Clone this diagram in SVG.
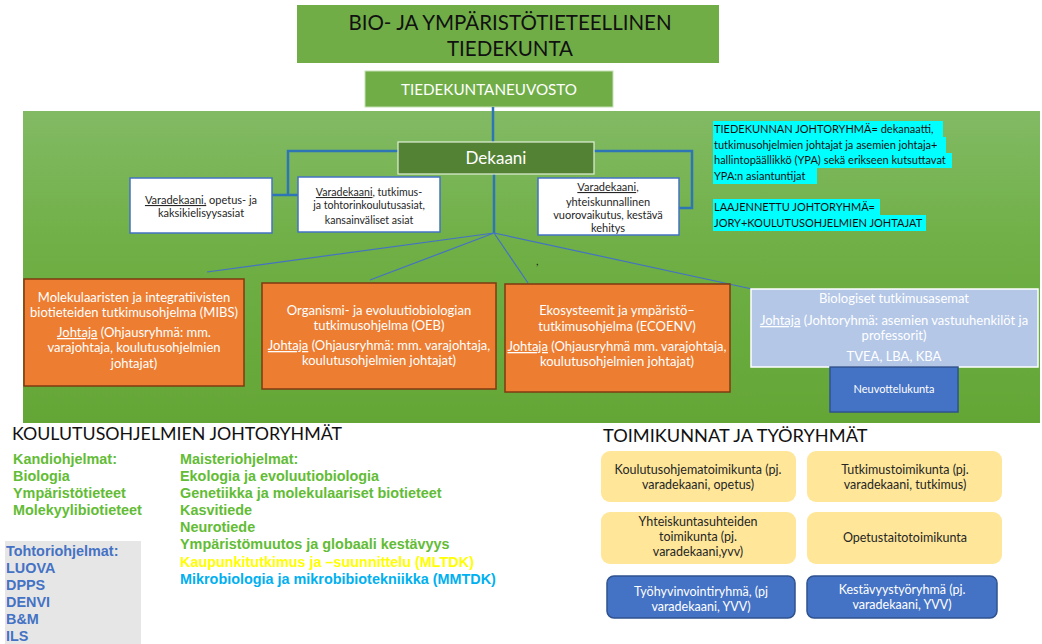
<svg xmlns="http://www.w3.org/2000/svg" width="1042" height="644" viewBox="0 0 1042 644">
  <style>
    .f { font-family: Lato, Carlito, "Liberation Sans", sans-serif; }
    .a { font-family: "Liberation Sans", Arial, sans-serif; font-weight: bold; font-size: 14.4px; }
    .hdr { fill: #111; font-size: 20.5px; text-anchor: middle; }
    .wt { fill: #ffffff; text-anchor: middle; }
    .dk { fill: #262626; text-anchor: middle; }
    .prog { fill: #ED7D31; stroke: #7F3A10; stroke-width: 1.5; }
    .vara { fill: #ffffff; stroke: #4472C4; stroke-width: 1.5; }
    .thick { fill: none; stroke: #2E75B6; stroke-width: 2.5; }
    .thin { fill: none; stroke: #4472C4; stroke-width: 1.2; }
    .ykk { fill: #FFE699; }
    .tr { fill: #4472C4; stroke: #2F528F; stroke-width: 1.5; }
    .u { text-decoration: underline; }
    .green { fill: #62BC35; }
    .cy { fill: #00FFFF; }
  </style>
  <defs>
    <linearGradient id="bg" x1="0" y1="0" x2="0" y2="1">
      <stop offset="0" stop-color="#82BA64"/>
      <stop offset="0.45" stop-color="#6FAF45"/>
      <stop offset="1" stop-color="#64A636"/>
    </linearGradient>
  </defs>

  <rect width="1042" height="644" fill="#ffffff"/>

  <!-- faculty title -->
  <g id="tiedekunta">
    <rect x="297" y="5" width="422" height="58" fill="#70AD47"/>
    <text class="f hdr" x="510" y="30">BIO- JA YMPÄRISTÖTIETEELLINEN</text>
    <text class="f hdr" x="510" y="56">TIEDEKUNTA</text>
  </g>

  <g id="tiedekuntaneuvosto">
    <rect x="365" y="71" width="248" height="36" fill="#70AD47" stroke="#C5E0B4" stroke-width="1"/>
    <text class="f wt" x="489" y="94.5" font-size="15.2">TIEDEKUNTANEUVOSTO</text>
  </g>

  <!-- green organisation panel -->
  <rect id="panel" x="23" y="111" width="1017" height="312" fill="url(#bg)"/>

  <g id="connectors">
    <path class="thick" d="M493 107 V142"/>
    <path class="thick" d="M398 151 H288 V195 M272 195 H298"/>
    <path class="thick" d="M594 151 H692 V208 H679"/>
    <path class="thick" d="M494 174 V233"/>
    <path class="thin" d="M494 233 L207 272 M494 233 L370 280 M494 233 L528 283 M494 233 L752 289"/>
  </g>

  <g id="dekaani">
    <rect x="398" y="142" width="196" height="32" fill="#548235" stroke="#E2F0D9" stroke-width="1.2"/>
    <text class="f wt" x="496" y="164" font-size="17">Dekaani</text>
  </g>

  <g id="varadekaani-opetus">
    <rect class="vara" x="130" y="178" width="142" height="55"/>
    <text class="f dk" font-size="11" x="201" y="204"><tspan class="u">Varadekaani,</tspan> opetus- ja</text>
    <text class="f dk" font-size="11" x="201" y="217">kaksikielisyysasiat</text>
  </g>

  <g id="varadekaani-tutkimus">
    <rect class="vara" x="298" y="177" width="142" height="55"/>
    <text class="f dk" font-size="10.6" x="369" y="196"><tspan class="u">Varadekaani</tspan>, tutkimus-</text>
    <text class="f dk" font-size="10.6" x="369" y="209">ja tohtorinkoulutusasiat,</text>
    <text class="f dk" font-size="10.6" x="369" y="224">kansainväliset asiat</text>
  </g>

  <g id="varadekaani-yvv">
    <rect class="vara" x="538" y="178" width="141" height="57"/>
    <text class="f dk" font-size="11" x="608" y="191"><tspan class="u">Varadekaani</tspan>,</text>
    <text class="f dk" font-size="11" x="608" y="206">yhteiskunnallinen</text>
    <text class="f dk" font-size="11" x="608" y="219">vuorovaikutus, kestävä</text>
    <text class="f dk" font-size="11" x="608" y="232">kehitys</text>
  </g>

  <text class="f" x="536" y="265" font-size="11" fill="#222">,</text>

  <!-- management group note -->
  <g id="johtoryhma">
    <rect class="cy" x="713" y="121" width="230" height="16"/>
    <rect class="cy" x="713" y="137" width="233" height="16"/>
    <rect class="cy" x="713" y="153" width="239" height="15"/>
    <rect class="cy" x="713" y="168" width="104" height="16"/>
    <rect class="cy" x="713" y="199" width="167" height="16"/>
    <rect class="cy" x="713" y="215" width="213" height="16"/>
    <g class="f" font-size="11" fill="#111">
      <text x="714" y="133">TIEDEKUNNAN JOHTORYHMÄ= dekanaatti,</text>
      <text x="714" y="149">tutkimusohjelmien johtajat ja asemien johtaja+</text>
      <text x="714" y="164">hallintopäällikkö (YPA) sekä erikseen kutsuttavat</text>
      <text x="714" y="180">YPA:n asiantuntijat</text>
      <text x="714" y="211">LAAJENNETTU JOHTORYHMÄ=</text>
      <text x="714" y="227">JORY+KOULUTUSOHJELMIEN JOHTAJAT</text>
    </g>
  </g>

  <!-- research programmes -->
  <g id="mibs">
    <rect class="prog" x="24" y="279" width="220" height="107"/>
    <g class="f wt" font-size="13">
      <text x="134" y="302">Molekulaaristen ja integratiivisten</text>
      <text x="134" y="317">biotieteiden tutkimusohjelma (MIBS)</text>
      <text x="134" y="337"><tspan class="u">Johtaja</tspan> (Ohjausryhmä: mm.</text>
      <text x="134" y="352">varajohtaja, koulutusohjelmien</text>
      <text x="134" y="368">johtajat)</text>
    </g>
  </g>

  <g id="oeb">
    <rect class="prog" x="262" y="283" width="234" height="106"/>
    <g class="f wt" font-size="13">
      <text x="379" y="315">Organismi- ja evoluutiobiologian</text>
      <text x="379" y="330">tutkimusohjelma (OEB)</text>
      <text x="379" y="350"><tspan class="u">Johtaja</tspan> (Ohjausryhmä: mm. varajohtaja,</text>
      <text x="379" y="365">koulutusohjelmien johtajat)</text>
    </g>
  </g>

  <g id="ecoenv">
    <rect class="prog" x="505" y="284" width="225" height="108"/>
    <g class="f wt" font-size="13">
      <text x="617" y="315">Ekosysteemit ja ympäristö–</text>
      <text x="617" y="331">tutkimusohjelma (ECOENV)</text>
      <text x="617" y="351"><tspan class="u">Johtaja</tspan> (Ohjausryhmä mm. varajohtaja,</text>
      <text x="617" y="366">koulutusohjelmien johtajat)</text>
    </g>
  </g>

  <g id="tutkimusasemat">
    <rect x="751" y="289" width="287" height="78" fill="#B4C7E7" stroke="#ffffff" stroke-width="1.5"/>
    <g class="f wt" font-size="13">
      <text x="894" y="303">Biologiset tutkimusasemat</text>
      <text x="894" y="325"><tspan class="u">Johtaja</tspan> (Johtoryhmä: asemien vastuuhenkilöt ja</text>
      <text x="894" y="340">professorit)</text>
      <text x="894" y="361">TVEA, LBA, KBA</text>
    </g>
  </g>

  <g id="neuvottelukunta">
    <rect class="tr" x="830" y="367" width="128" height="45"/>
    <text class="f wt" x="894" y="393" font-size="11">Neuvottelukunta</text>
  </g>

  <!-- degree programme steering groups -->
  <g id="koulutusohjelmat">
    <text class="f" x="12" y="440" font-size="17.8" fill="#111">KOULUTUSOHJELMIEN JOHTORYHMÄT</text>
    <g class="a green">
      <text x="13" y="464">Kandiohjelmat:</text>
      <text x="13" y="481">Biologia</text>
      <text x="13" y="498">Ympäristötieteet</text>
      <text x="13" y="515">Molekyylibiotieteet</text>
      <text x="180" y="464">Maisteriohjelmat:</text>
      <text x="180" y="481">Ekologia ja evoluutiobiologia</text>
      <text x="180" y="498">Genetiikka ja molekulaariset biotieteet</text>
      <text x="180" y="515">Kasvitiede</text>
      <text x="180" y="532">Neurotiede</text>
      <text x="180" y="549">Ympäristömuutos ja globaali kestävyys</text>
    </g>
    <text class="a" x="180" y="567" fill="#FFFF00">Kaupunkitutkimus ja  –suunnittelu (MLTDK)</text>
    <text class="a" x="180" y="584" fill="#00B0F0">Mikrobiologia ja mikrobibiotekniikka (MMTDK)</text>
  </g>

  <g id="tohtoriohjelmat">
    <rect x="5" y="541" width="136" height="103" fill="#E7E6E6"/>
    <g class="a" fill="#4472C4">
      <text x="6" y="556">Tohtoriohjelmat:</text>
      <text x="6" y="573">LUOVA</text>
      <text x="6" y="590">DPPS</text>
      <text x="6" y="607">DENVI</text>
      <text x="6" y="624">B&amp;M</text>
      <text x="6" y="641">ILS</text>
    </g>
  </g>

  <!-- committees and working groups -->
  <text class="f" x="603" y="442" font-size="18.2" fill="#111">TOIMIKUNNAT JA TYÖRYHMÄT</text>

  <g id="koulutusohjelmatoimikunta">
    <rect class="ykk" x="601" y="451" width="195" height="51" rx="9"/>
    <text class="f dk" font-size="12.5" x="698" y="474">Koulutusohjematoimikunta (pj.</text>
    <text class="f dk" font-size="12.5" x="698" y="489">varadekaani, opetus)</text>
  </g>
  <g id="tutkimustoimikunta">
    <rect class="ykk" x="807" y="451" width="195" height="51" rx="9"/>
    <text class="f dk" font-size="12.5" x="905" y="474">Tutkimustoimikunta (pj.</text>
    <text class="f dk" font-size="12.5" x="905" y="489">varadekaani, tutkimus)</text>
  </g>
  <g id="yhteiskuntasuhteiden-toimikunta">
    <rect class="ykk" x="601" y="512" width="195" height="52" rx="9"/>
    <text class="f dk" font-size="12.5" x="698" y="526">Yhteiskuntasuhteiden</text>
    <text class="f dk" font-size="12.5" x="698" y="541">toimikunta (pj.</text>
    <text class="f dk" font-size="12.5" x="698" y="556">varadekaani,yvv)</text>
  </g>
  <g id="opetustaitotoimikunta">
    <rect class="ykk" x="807" y="512" width="195" height="52" rx="9"/>
    <text class="f dk" font-size="12.5" x="905" y="542">Opetustaitotoimikunta</text>
  </g>
  <g id="tyohyvinvointiryhma">
    <rect class="tr" x="607" y="576" width="188" height="42" rx="7"/>
    <text class="f wt" font-size="12.5" x="701" y="596">Työhyvinvointiryhmä, (pj</text>
    <text class="f wt" font-size="12.5" x="701" y="611">varadekaani, YVV)</text>
  </g>
  <g id="kestavyystyoryhma">
    <rect class="tr" x="807" y="576" width="190" height="42" rx="7"/>
    <text class="f wt" font-size="12.5" x="902" y="594">Kestävyystyöryhmä (pj.</text>
    <text class="f wt" font-size="12.5" x="902" y="609">varadekaani, YVV)</text>
  </g>
</svg>
